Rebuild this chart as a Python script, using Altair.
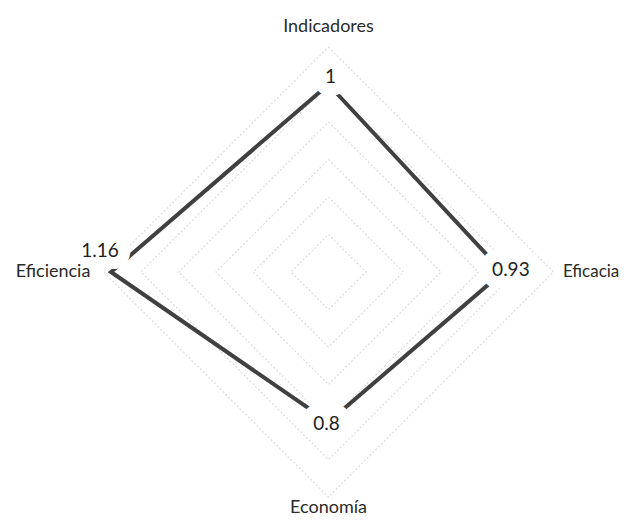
import altair as alt
import pandas as pd

# ---- data ----
categories = ["Indicadores", "Eficacia", "Economía", "Eficiencia"]
values = [1.0, 0.93, 0.8, 1.16]
value_labels = ["1", "0.93", "0.8", "1.16"]
grid_levels = [0.2, 0.4, 0.6, 0.8, 1.0, 1.2]

n = len(categories)
series = pd.DataFrame({
    "cat": categories + categories[:1],
    "v": values + values[:1],
    "lab": value_labels + value_labels[:1],
    "k": list(range(n + 1)),
})
grid = pd.DataFrame([{"level": lv, "k": k} for lv in grid_levels for k in range(n + 1)])
cats = pd.DataFrame({"cat": categories, "k": list(range(n))})

# ---- scales: centre of the radar, equal units on both axes ----
W, H = 614, 511
xs = alt.Scale(domain=[-1.7093, 1.5653], nice=False, zero=False)
ys = alt.Scale(domain=[-1.3173, 1.408], nice=False, zero=False)


def polar(r_expr):
    return dict(
        x=f"({r_expr}) * sin(datum.k * 2 * PI / {n})",
        y=f"({r_expr}) * cos(datum.k * 2 * PI / {n})",
    )


def enc():
    return dict(x=alt.X("x:Q", scale=xs, axis=None), y=alt.Y("y:Q", scale=ys, axis=None))


grid_layer = (
    alt.Chart(grid)
    .transform_calculate(**polar("datum.level"))
    .mark_line(stroke="#dcdcdc", strokeWidth=1.2, strokeDash=[2, 2])
    .encode(**enc(), detail="level:N", order="k:Q")
)

line_layer = (
    alt.Chart(series)
    .transform_calculate(**polar("datum.v"))
    .mark_line(stroke="#404040", strokeWidth=4, strokeJoin="miter")
    .encode(**enc(), order="k:Q")
)

# value-label offsets (px) from each vertex, as placed in the reference
label_offsets = {
    "Indicadores": (2, -8),
    "Eficacia": (8, -2),
    "Economía": (-2, 2),
    "Eficiencia": (-11, -21),
}

halo_layers, value_layers = [], []
for c in categories:
    dx, dy = label_offsets[c]
    base = (
        alt.Chart(series)
        .transform_filter(f"datum.k < {n} && datum.cat == '{c}'")
        .transform_calculate(**polar("datum.v"))
    )
    halo_layers.append(
        base.mark_text(font="Lato", fontSize=19, dx=dx, dy=dy, color="white",
                       stroke="white", strokeWidth=24, strokeJoin="round",
                       baseline="middle", align="center")
        .encode(**enc(), text="lab:N")
    )
    value_layers.append(
        base.mark_text(font="Lato", fontSize=19, dx=dx, dy=dy, color="#1e1e1e",
                       baseline="middle", align="center")
        .encode(**enc(), text="lab:N")
    )

# category labels around the outside
cat_style = {
    0: dict(radius=1.28, align="center", baseline="alphabetic", size=18),
    1: dict(radius=1.25, align="left", baseline="middle", size=17),
    2: dict(radius=1.285, align="center", baseline="alphabetic", size=18),
    3: dict(radius=1.27, align="right", baseline="middle", size=18),
}
cat_layers = []
for k in range(n):
    st = cat_style[k]
    cat_layers.append(
        alt.Chart(cats)
        .transform_filter(f"datum.k == {k}")
        .transform_calculate(**polar(str(st["radius"])))
        .mark_text(font="Lato", fontSize=st["size"], color="#2a2a2a",
                   align=st["align"], baseline=st["baseline"])
        .encode(**enc(), text="cat:N")
    )

chart = (
    alt.layer(grid_layer, line_layer, *halo_layers, *value_layers, *cat_layers)
    .properties(width=W, height=H, autosize=alt.AutoSizeParams(type="none"), padding=0)
    .configure_view(stroke=None)
)

chart.save("out.html", embed_options={"renderer": "svg", "actions": False})
